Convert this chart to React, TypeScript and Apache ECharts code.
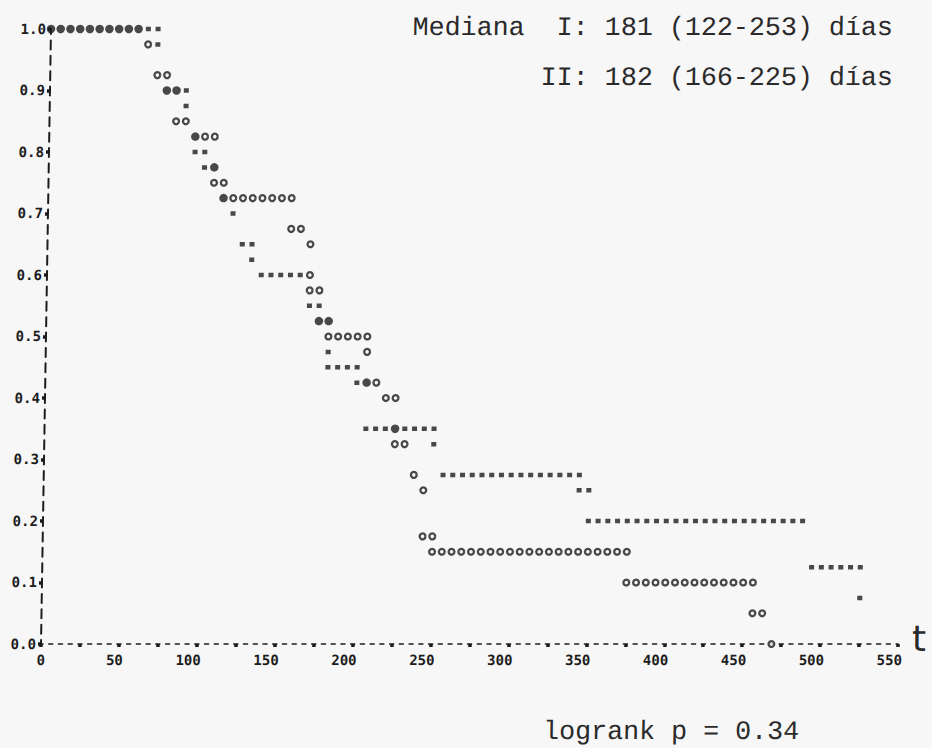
import React, { useEffect, useRef } from "react";
import * as echarts from "echarts";

// Line-printer Kaplan-Meier plot: one printed character every 6.25 days and every 0.025 of survival.
const COLUMN_DAYS = 6.25;

// Axis tick labels
const xTickLabels = [0, 50, 100, 150, 200, 250, 300, 350, 400, 450, 500, 550];
const yTickLabels = ["0.0", "0.1", "0.2", "0.3", "0.4", "0.5", "0.6", "0.7", "0.8", "0.9", "1.0"];

// Printed runs: [first day, last day, survival]
// Group I ("*")
const groupIRuns: [number, number, number][] = [
  [62.5, 68.75, 1.0],
  [68.75, 68.75, 0.975],
  [87.5, 87.5, 0.9],
  [87.5, 87.5, 0.875],
  [93.75, 100, 0.8],
  [100, 100, 0.775],
  [118.75, 118.75, 0.7],
  [125, 131.25, 0.65],
  [131.25, 131.25, 0.625],
  [137.5, 162.5, 0.6],
  [168.75, 175, 0.55],
  [181.25, 181.25, 0.475],
  [181.25, 200, 0.45],
  [200, 200, 0.425],
  [206.25, 218.75, 0.35],
  [231.25, 250, 0.35],
  [250, 250, 0.325],
  [256.25, 343.75, 0.275],
  [343.75, 350, 0.25],
  [350, 487.5, 0.2],
  [493.75, 525, 0.125],
  [525, 525, 0.075],
];

// Group II ("o")
const groupIIRuns: [number, number, number][] = [
  [62.5, 62.5, 0.975],
  [68.75, 75, 0.925],
  [81.25, 87.5, 0.85],
  [100, 106.25, 0.825],
  [106.25, 112.5, 0.75],
  [118.75, 156.25, 0.725],
  [156.25, 162.5, 0.675],
  [168.75, 168.75, 0.65],
  [168.75, 168.75, 0.6],
  [168.75, 175, 0.575],
  [181.25, 206.25, 0.5],
  [206.25, 206.25, 0.475],
  [212.5, 212.5, 0.425],
  [218.75, 225, 0.4],
  [225, 231.25, 0.325],
  [237.5, 237.5, 0.275],
  [243.75, 243.75, 0.25],
  [243.75, 250, 0.175],
  [250, 375, 0.15],
  [375, 456.25, 0.1],
  [456.25, 462.5, 0.05],
  [468.75, 468.75, 0.0],
];

// Both groups on the same character cell (bold "@")
const bothRuns: [number, number, number][] = [
  [0, 56.25, 1.0],
  [75, 81.25, 0.9],
  [93.75, 93.75, 0.825],
  [106.25, 106.25, 0.775],
  [112.5, 112.5, 0.725],
  [175, 181.25, 0.525],
  [206.25, 206.25, 0.425],
  [225, 225, 0.35],
];

const headerLines = ["Mediana  I: 181 (122-253) días", "II: 182 (166-225) días"];
const logrankText = "logrank p = 0.34";
const timeLetter = "t";

const INK = "#1c1c1c";
const TEXT = "#2a2a2a";
const BG = "#f7f7f7";
const SKEW = Math.tan((0.93 * Math.PI) / 180);
const AXIS_Y = 644;
const unskew = (x: number, y: number) => x - (AXIS_Y - y) * SKEW;

function expand(runs: [number, number, number][]) {
  const pts: number[][] = [];
  for (const [a, b, s] of runs) {
    for (let t = a; t <= b + 1e-9; t += COLUMN_DAYS) pts.push([t, s]);
  }
  return pts;
}

const LABEL_FONT = { fontFamily: "DejaVu Sans Mono", fontWeight: "bold" as const, fontSize: 14, color: INK };
const CW = 0.602 * 14;

export default function App() {
  const ref = useRef<HTMLDivElement>(null);
  useEffect(() => {
    if (!ref.current) return;
    const chart = echarts.init(ref.current, undefined, { renderer: "svg" });
    const option: any = {
      animation: false,
      backgroundColor: "transparent",
      grid: { left: 41, top: 29, width: 857, height: 615 },
      xAxis: {
        type: "value",
        min: 0,
        max: 550,
        interval: 25,
        axisLine: { show: true, lineStyle: { color: INK, width: 1.6, type: [4, 5.74], dashOffset: 2 } },
        axisTick: { show: true, length: 3, lineStyle: { color: INK, width: 3.5 } },
        splitLine: { show: false },
        axisLabel: {
          margin: 9,
          align: "center",
          formatter: (v: number) =>
            xTickLabels.includes(v) ? `{p${String(v).length}|${v}}` : "",
          rich: {
            p1: { ...LABEL_FONT, padding: [0, 0, 0, 0] },
            p2: { ...LABEL_FONT, padding: [0, CW, 0, 0] },
            p3: { ...LABEL_FONT, padding: [0, 2 * CW, 0, 0] },
          },
        },
      },
      yAxis: {
        type: "value",
        min: 0,
        max: 1,
        interval: 0.1,
        axisLine: { show: true, lineStyle: { color: INK, width: 2, type: [9, 6.375], dashOffset: 4.5 } },
        axisTick: { show: true, length: 3, lineStyle: { color: INK, width: 3.5 } },
        splitLine: { show: false },
        axisLabel: {
          margin: 5,
          ...LABEL_FONT,
          formatter: (v: number) => yTickLabels[Math.round(v * 10)] ?? "",
        },
      },
      series: [
        {
          type: "scatter",
          name: "I",
          data: expand(groupIRuns),
          symbol: "rect",
          symbolSize: [5, 4.5],
          itemStyle: { color: INK },
          silent: true,
          z: 3,
        },
        {
          type: "scatter",
          name: "II",
          data: expand(groupIIRuns),
          symbol: "circle",
          symbolSize: 5.8,
          itemStyle: { color: BG, borderColor: INK, borderWidth: 2.3 },
          silent: true,
          z: 4,
        },
        {
          type: "scatter",
          name: "I + II",
          data: expand(bothRuns),
          symbol: "circle",
          symbolSize: 8.5,
          itemStyle: { color: INK },
          silent: true,
          z: 5,
        },
      ],
      graphic: [
        {
          type: "text",
          x: unskew(893, 27.8),
          y: 27.8,
          style: {
            text: headerLines[0],
            font: '26.7px "Liberation Mono"',
            fill: TEXT,
            textAlign: "right",
            textVerticalAlign: "middle",
            verticalAlign: "middle",
          },
        },
        {
          type: "text",
          x: unskew(893, 77.8),
          y: 77.8,
          style: {
            text: headerLines[1],
            font: '26.7px "Liberation Mono"',
            fill: TEXT,
            textAlign: "right",
            textVerticalAlign: "middle",
            verticalAlign: "middle",
          },
        },
        {
          type: "text",
          x: unskew(543, 732.5),
          y: 732.5,
          style: {
            text: logrankText,
            font: '26.7px "Liberation Mono"',
            fill: TEXT,
            textAlign: "left",
            textVerticalAlign: "middle",
            verticalAlign: "middle",
          },
        },
        {
          type: "text",
          x: unskew(912, 638.5),
          y: 638.5,
          style: {
            text: timeLetter,
            font: '36px "DejaVu Sans"',
            fill: TEXT,
            textAlign: "left",
            textVerticalAlign: "middle",
            verticalAlign: "middle",
          },
        },
      ],
    };
    chart.setOption(option);
    return () => chart.dispose();
  }, []);

  return (
    <div style={{ position: "fixed", left: 0, top: 0, width: 932, height: 748, background: BG, overflow: "hidden" }}>
      <div
        ref={ref}
        style={{
          position: "absolute",
          left: 0,
          top: 0,
          width: 932,
          height: 748,
          transform: "skewX(-0.93deg)",
          transformOrigin: "0px 644px",
        }}
      />
    </div>
  );
}
